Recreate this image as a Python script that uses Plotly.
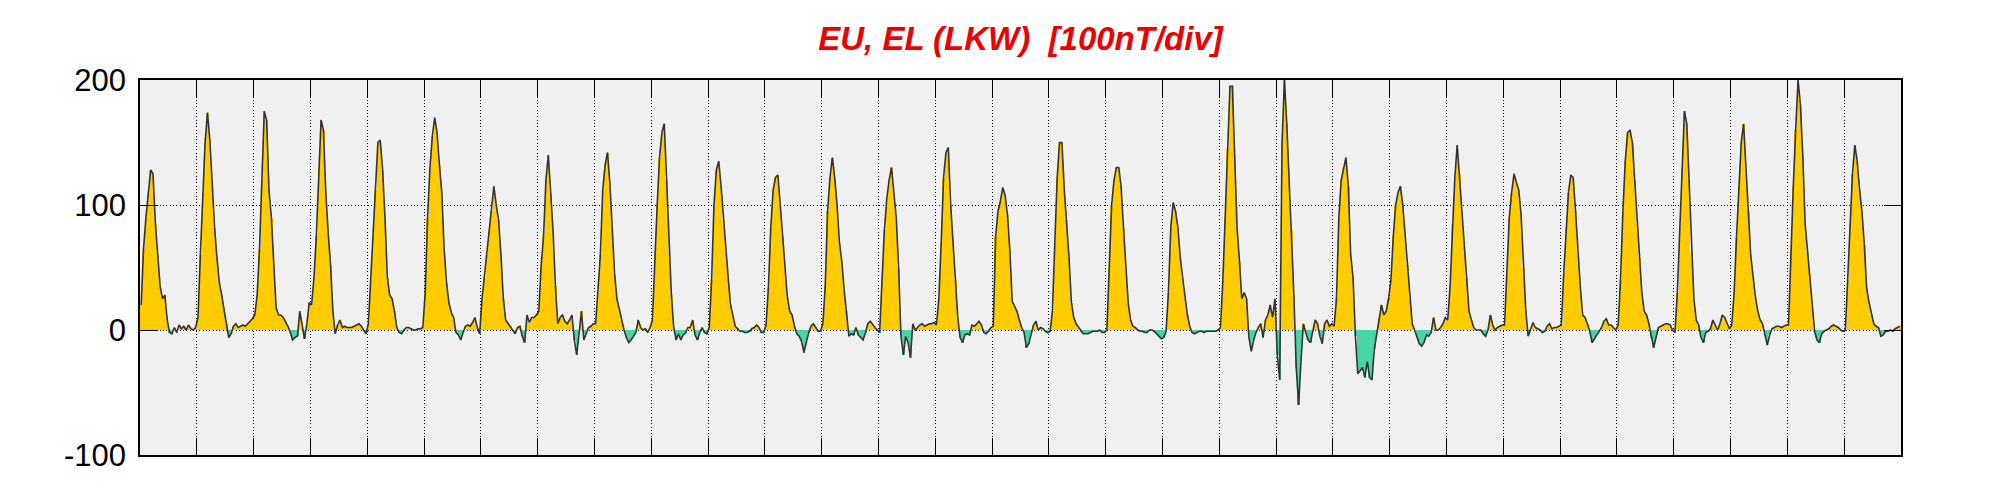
import plotly.graph_objects as go

# ---- text ----
title_text = "EU, EL (LKW)\u00a0 [100nT/div]"
y_tick_vals = [-100, 0, 100, 200]
y_tick_text = ["-100", "0", "100", "200"]
n_days = 31
hours_per_day = 24

# ---- hourly EU / EL values (nT), one list per day ----
day01 = [20, 65, 90, 110, 128, 125, 85, 60, 35, 25, 28, 8, -2, -3, 2, -2, 4, 1, 3, 0, 4, 1, 0, 2]
day02 = [10, 60, 110, 150, 174, 152, 118, 82, 58, 38, 28, 18, 5, -6, -3, 3, 5, 2, 3, 4, 3, 5, 7, 9]
day03 = [12, 28, 65, 120, 175, 168, 112, 90, 52, 18, 12, 12, 10, 7, 3, -2, -8, -6, -5, 15, 2, -7, 5, 22]
day04 = [20, 42, 75, 130, 168, 160, 110, 78, 52, 15, -3, 4, 8, 2, 3, 2, 2, 2, 3, 4, 5, 3, 0, -3]
day05 = [5, 40, 75, 112, 150, 152, 128, 90, 42, 28, 25, 15, 2, -2, -3, 0, 2, 2, 1, 0, 0, 1, 1, 2]
day06 = [30, 90, 130, 155, 170, 158, 132, 110, 65, 38, 22, 14, 10, -2, -4, -8, -2, 3, 4, 3, 6, 10, 2, -3]
day07 = [25, 42, 60, 80, 95, 115, 100, 88, 60, 25, 8, 5, 3, 0, -3, 2, 3, -5, -10, 12, 6, 10, 10, 12]
day08 = [15, 52, 75, 120, 140, 110, 80, 35, 5, 10, 12, 7, 5, 8, 12, -8, -20, -3, 15, -8, -3, 2, 3, 5]
day09 = [5, 30, 60, 112, 132, 142, 118, 82, 45, 25, 16, 8, 0, -6, -10, -8, -5, -2, 8, 2, 0, 1, -2, 2]
day10 = [8, 60, 100, 138, 158, 165, 120, 62, 28, 2, -8, -3, -8, -4, -2, 2, 2, 8, -4, -8, -2, 2, -2, -3]
day11 = [2, 40, 100, 128, 135, 115, 88, 62, 42, 20, 10, 3, 1, -1, -1, -2, -2, -1, 1, 2, 4, 2, -2, -2]
day12 = [4, 34, 82, 112, 122, 124, 100, 75, 48, 26, 15, 12, 3, -3, -5, -9, -18, -10, -2, 3, 5, 2, -1, -1]
day13 = [5, 35, 95, 122, 138, 122, 100, 70, 55, 32, 15, -5, -3, -4, 2, -4, -6, -8, -2, 5, 7, 4, 2, 0]
day14 = [-2, 40, 80, 105, 120, 130, 110, 90, 50, -5, -20, -5, -10, -22, 5, 0, 2, 4, 5, 3, 4, 5, 5, 6]
day15 = [4, 25, 70, 122, 142, 146, 100, 72, 40, 10, -6, -10, -4, -3, -4, 4, 3, 5, 7, 4, -2, -3, -1, 2]
day16 = [3, 75, 95, 103, 114, 108, 92, 64, 23, 19, 15, 8, 2, -2, -14, -11, -3, 4, 7, 0, 2, 1, -1, -2]
day17 = [-1, 15, 70, 122, 150, 150, 112, 88, 58, 22, 10, 5, 2, -1, -3, -3, -3, -2, -1, -1, -1, 0, -2, -2]
day18 = [0, 50, 100, 120, 130, 130, 115, 82, 50, 22, 8, 3, 2, 0, -1, -1, -2, -2, 0, 0, -1, -3, -5, -7]
day19 = [-6, -1, 30, 82, 102, 95, 82, 58, 42, 25, 12, 3, -2, -3, -2, -1, -1, -2, -1, -1, -1, -1, -1, 0]
day20 = [2, 40, 90, 145, 195, 195, 140, 82, 55, 25, 30, 25, -6, -17, -8, -2, 2, 5, -6, 8, 12, 20, 10, 25]
day21 = [-20, -40, 150, 200, 165, 120, 80, 28, -30, -60, -25, 5, -2, -8, -10, 0, 8, 5, -5, -11, 5, 8, 3, 5]
day22 = [3, 25, 90, 120, 130, 138, 115, 60, 42, -5, -35, -32, -30, -38, -25, -38, -40, -15, -2, 10, 20, 12, 15, 25]
day23 = [40, 75, 100, 110, 115, 100, 75, 52, 25, 5, 0, -5, -11, -13, -10, -4, -5, -2, 10, 0, 0, 2, 5, 10]
day24 = [8, 35, 85, 122, 148, 125, 95, 68, 42, 15, 8, 2, 0, 0, 0, -3, -5, 0, 12, 4, 0, 2, 3, 4]
day25 = [4, 45, 90, 110, 125, 118, 112, 92, 50, 15, -5, 0, 6, 2, 1, 0, -2, -1, 3, 5, 1, 2, 2, 3]
day26 = [4, 45, 82, 110, 124, 122, 95, 60, 35, 12, 10, 5, -1, -10, -7, -3, -1, 2, 7, 9, 4, 4, 2, 0]
day27 = [4, 40, 95, 135, 158, 160, 150, 120, 85, 58, 30, 15, 12, 5, -6, -14, -6, 2, 3, 4, 5, 5, 4, 0]
day28 = [-2, 30, 82, 130, 175, 165, 120, 62, 25, 8, 4, -6, -10, -2, -1, 1, 8, 4, 0, 5, 12, 10, 5, 1]
day29 = [4, 30, 74, 115, 150, 165, 125, 95, 60, 42, 26, 15, 8, 5, -3, -12, -4, 1, 2, 3, 3, 2, 3, 4]
day30 = [4, 65, 115, 160, 200, 180, 140, 85, 62, 45, 18, -1, -8, -10, -3, -1, 0, 1, 3, 4, 3, 2, 0, -1]
day31 = [0, 40, 85, 125, 148, 135, 112, 95, 68, 33, 22, 12, 5, 3, 2, -5, -4, -1, -1, 0, -1, 1, 2, 3]

days = [day01, day02, day03, day04, day05, day06, day07, day08, day09, day10,
        day11, day12, day13, day14, day15, day16, day17, day18, day19, day20,
        day21, day22, day23, day24, day25, day26, day27, day28, day29, day30, day31]

values = [v for d in days for v in d]
hours = [i + 0.5 for i in range(len(values))]

EU_COLOR = "#FFCC00"
EL_COLOR = "#48D4A4"
LINE_COLOR = "#333333"
bar_colors = [EU_COLOR if v >= 0 else EL_COLOR for v in values]

fig = go.Figure()
fig.add_trace(go.Bar(
    x=hours, y=values, width=1.0,
    marker=dict(color=bar_colors, line=dict(color="white", width=0)),
    hoverinfo="skip", showlegend=False,
))
fig.add_trace(go.Scatter(
    x=hours, y=values, mode="lines",
    line=dict(color=LINE_COLOR, width=1.6),
    hoverinfo="skip", showlegend=False,
))

# page body has an 8px margin, so the figure is slightly smaller than the window
FIG_W, FIG_H = 1985, 484
fig.update_layout(
    width=FIG_W, height=FIG_H,
    paper_bgcolor="white",
    plot_bgcolor="#F0F0F0",
    margin=dict(l=132, r=92, t=72, b=37, autoexpand=False),
    bargap=0,
    title=dict(
        text=title_text,
        x=0.5, xref="paper", xanchor="center",
        y=1 - 30 / FIG_H, yref="container", yanchor="middle",
        font=dict(family="Liberation Sans, Arial, sans-serif", size=33,
                  color="#EE0000", weight="bold", style="italic"),
    ),
)

grid_dash = "1px,2.3px"
fig.update_xaxes(
    range=[0, n_days * hours_per_day],
    tick0=0, dtick=hours_per_day,
    ticks="inside", ticklen=17, tickwidth=1, tickcolor="black",
    showticklabels=False,
    showline=True, linecolor="black", linewidth=1.5, mirror="allticks",
    showgrid=True, gridcolor="black", gridwidth=1, griddash=grid_dash,
    zeroline=False,
)
fig.update_yaxes(
    range=[-100, 200],
    tickmode="array", tickvals=y_tick_vals, ticktext=y_tick_text,
    ticks="inside", ticklen=17, tickwidth=1, tickcolor="black",
    tickfont=dict(family="Liberation Sans, Arial, sans-serif", size=31, color="black"),
    ticklabelstandoff=6,
    showline=True, linecolor="black", linewidth=1.5, mirror="allticks",
    showgrid=True, gridcolor="black", gridwidth=1, griddash=grid_dash,
    zeroline=False,
)

fig.write_html("out.html")
